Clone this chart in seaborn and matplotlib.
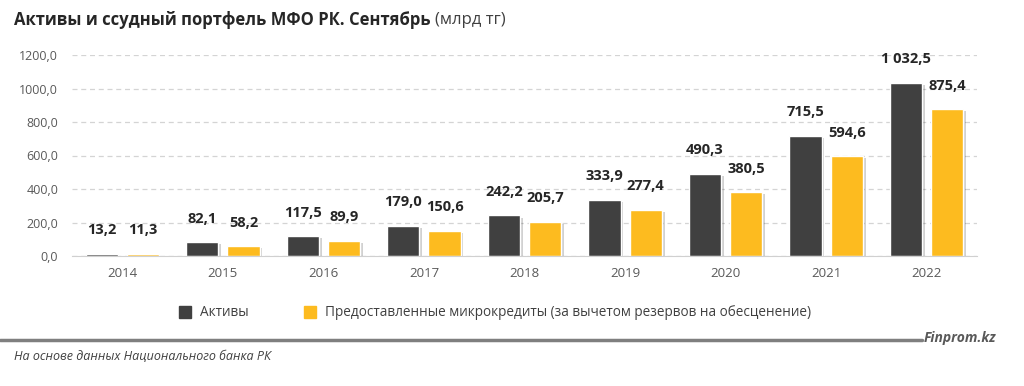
import matplotlib
matplotlib.use("Agg")
import matplotlib.pyplot as plt
import matplotlib.patheffects as pe
import pandas as pd
import seaborn as sns
from matplotlib.lines import Line2D

# Chart data
years = ["2014", "2015", "2016", "2017", "2018", "2019", "2020", "2021", "2022"]
assets = [13.2, 82.1, 117.5, 179.0, 242.2, 333.9, 490.3, 715.5, 1032.5]
loans = [11.3, 58.2, 89.9, 150.6, 205.7, 277.4, 380.5, 594.6, 875.4]
series_names = ["Активы", "Предоставленные микрокредиты (за вычетом резервов на обесценение)"]
y_ticks = [0, 200, 400, 600, 800, 1000, 1200]

DARK = "#404040"
YELLOW = "#FDBB1F"

df = pd.DataFrame({
    "year": years * 2,
    "value": assets + loans,
    "series": [series_names[0]] * len(years) + [series_names[1]] * len(years),
})

sns.set_style("white")
plt.rcParams["font.family"] = ["Open Sans", "DejaVu Sans"]

fig = plt.figure(figsize=(10.24, 3.86), dpi=100)
ax = fig.add_axes([72 / 1024, 1 - 256 / 386, 905 / 1024, 201 / 386])

sns.barplot(data=df, x="year", y="value", hue="series", order=years,
            palette=[DARK, YELLOW], width=0.82, gap=0.22, ax=ax, legend=False,
            saturation=1)

# soft shadow like the original
for p in ax.patches:
    p.set_path_effects([pe.SimplePatchShadow(offset=(2, -1.5), alpha=0.18, shadow_rgbFace="#000000"),
                        pe.Normal()])


def fmt(v):
    return f"{v:,.1f}".replace(",", " ").replace(".", ",")


for cont in ax.containers:
    labels = [fmt(b.get_height()) for b in cont]
    ax.bar_label(cont, labels=labels, padding=12, fontsize=10.5, fontweight="bold",
                 color="#262626", clip_on=False)

ax.set_ylim(0, 1200)
ax.set_xlim(-0.5, len(years) - 0.5)
ax.set_yticks(y_ticks)
ax.set_yticklabels([f"{t:.1f}".replace(".", ",") for t in y_ticks])
ax.yaxis.grid(True, linestyle=(0, (4, 3)), color="#d4d4d4", linewidth=0.9)
ax.set_axisbelow(True)
for side in ["top", "right", "left"]:
    ax.spines[side].set_visible(False)
ax.spines["bottom"].set_color("#d0d0d0")
ax.tick_params(axis="both", length=0, labelsize=9, labelcolor="#595959")
ax.tick_params(axis="x", pad=8, labelsize=9.5)
ax.tick_params(axis="y", pad=10)
ax.set_xlabel("")
ax.set_ylabel("")

# Legend
handles = [Line2D([], [], marker="s", linestyle="", markersize=8, color=c) for c in (DARK, YELLOW)]
fig.legend(handles, series_names, loc="center", bbox_to_anchor=(0.48, 1 - 313 / 386), ncol=2,
           frameon=False, fontsize=9.8, handletextpad=0.1, columnspacing=3.5,
           labelcolor="#404040")

# Title
title = fig.text(14 / 1024, 1 - 20 / 386, "Активы и ссудный портфель МФО РК. Сентябрь", fontsize=12,
                 fontweight="bold", color="#262626", va="center")
fig.canvas.draw()
bb = title.get_window_extent()
fig.text((bb.x1 + 4) / 1024, 1 - 20 / 386, "(млрд тг)", fontsize=12, color="#404040", va="center")

# Footer
fig.add_artist(Line2D([0, 922 / 1024], [1 - 340 / 386] * 2, color="#7f7f7f", linewidth=2.5))
fig.text(924 / 1024, 1 - 338 / 386, "Finprom.kz", fontsize=10, fontweight="bold", style="italic",
         color="#595959", va="center")
fig.text(14 / 1024, 1 - 356 / 386, "На основе данных Национального банка РК", fontsize=9,
         style="italic", color="#404040", va="center")

fig.savefig("out.png", dpi=100)
